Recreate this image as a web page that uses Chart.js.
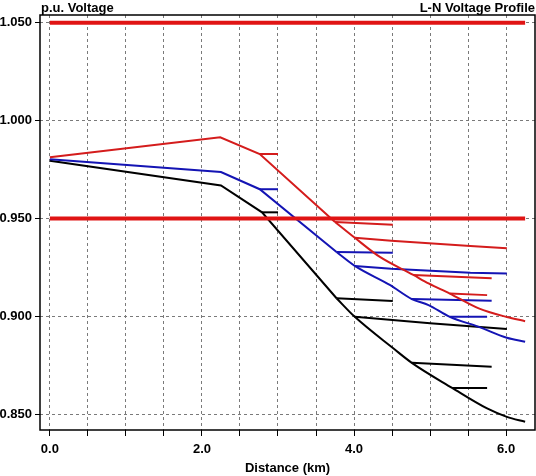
<!DOCTYPE html>
<html><head><meta charset="utf-8">
<script src="https://cdn.jsdelivr.net/npm/chart.js@4.4.1/dist/chart.umd.min.js"></script>
<style>html,body{margin:0;padding:0;background:#fff}canvas{display:block}</style>
</head><body>
<canvas id="c" width="536" height="476"></canvas>
<script>
// ---- axis ticks ----
const xTickValues = [0, 0.5, 1, 1.5, 2, 2.5, 3, 3.5, 4, 4.5, 5, 5.5, 6];
const xTickLabels = ['0.0', '', '', '', '2.0', '', '', '', '4.0', '', '', '', '6.0'];
const yTickValues = [0.85, 0.90, 0.95, 1.00, 1.05];
const yTickLabels = ['0.850', '0.900', '0.950', '1.000', '1.050'];

// ---- voltage limits ----
const limitKm = [0, 6.25];
const upperLimitV = [1.05, 1.05];
const lowerLimitV = [0.95, 0.95];

// ---- phase A (red) ----
const phaseAMainKm = [0, 2.24, 2.76, 3.75, 4.01, 4.34, 4.78, 4.98, 5.26, 5.64, 6.01, 6.25];
const phaseAMainV  = [0.9813, 0.9915, 0.9830, 0.9483, 0.9402, 0.9304, 0.9212, 0.9169, 0.9117, 0.9041, 0.8997, 0.8976];
const phaseABranchKm = [[2.76, 3.00], [3.75, 4.51], [4.01, 4.49, 5.53, 6.01], [4.78, 5.81], [5.26, 5.75]];
const phaseABranchV  = [[0.9830, 0.9830], [0.9483, 0.9469], [0.9402, 0.9387, 0.9360, 0.9348], [0.9212, 0.9195], [0.9117, 0.9109]];

// ---- phase B (blue) ----
const phaseBMainKm = [0, 2.25, 2.76, 3.77, 4.01, 4.47, 4.76, 4.98, 5.26, 5.64, 6.01, 6.25];
const phaseBMainV  = [0.9803, 0.9738, 0.9650, 0.9329, 0.9258, 0.9161, 0.9089, 0.9058, 0.8998, 0.8947, 0.8891, 0.8871];
const phaseBBranchKm = [[2.76, 3.00], [3.77, 4.51], [4.01, 4.49, 5.53, 6.01], [4.76, 5.81], [5.26, 5.75]];
const phaseBBranchV  = [[0.9650, 0.9650], [0.9329, 0.9326], [0.9258, 0.9244, 0.9223, 0.9220], [0.9089, 0.9080], [0.8998, 0.8998]];

// ---- phase C (black) ----
const phaseCMainKm = [0, 2.25, 2.79, 3.77, 4.01, 4.52, 4.76, 5.29, 5.75, 6.01, 6.25];
const phaseCMainV  = [0.9796, 0.9669, 0.9532, 0.9093, 0.8998, 0.8836, 0.8763, 0.8635, 0.8530, 0.8487, 0.8462];
const phaseCBranchKm = [[2.79, 3.00], [3.77, 4.51], [4.01, 5.00, 6.01], [4.76, 5.81], [5.29, 5.75]];
const phaseCBranchV  = [[0.9532, 0.9532], [0.9093, 0.9079], [0.8998, 0.8965, 0.8936], [0.8763, 0.8743], [0.8635, 0.8635]];

const RED = '#d41c1c', BLUE = '#1414b4', BLACK = '#000000', LIMIT = '#e01414';
const FONT = 'Arial, "Liberation Sans", sans-serif';
const CURVE_FROM_KM = 3.7; // main feeder drawn smooth beyond this distance

function pts(xs, ys) { return xs.map((x, i) => ({x: x, y: ys[i]})); }
function ds(data, color, width, order, smooth) {
  return {data: data, borderColor: color, backgroundColor: color, borderWidth: width,
          showLine: true, pointRadius: 0, pointHoverRadius: 0, tension: 0,
          cubicInterpolationMode: smooth ? 'monotone' : 'default', fill: false, order: order};
}

const datasets = [];
datasets.push(ds(pts(limitKm, upperLimitV), LIMIT, 4, 0, false));
datasets.push(ds(pts(limitKm, lowerLimitV), LIMIT, 4, 0, false));
[[phaseAMainKm, phaseAMainV, phaseABranchKm, phaseABranchV, RED, 1],
 [phaseBMainKm, phaseBMainV, phaseBBranchKm, phaseBBranchV, BLUE, 2],
 [phaseCMainKm, phaseCMainV, phaseCBranchKm, phaseCBranchV, BLACK, 3]].forEach(p => {
  const all = pts(p[0], p[1]);
  const k = all.findIndex(q => q.x >= CURVE_FROM_KM);
  datasets.push(ds(all.slice(0, k + 1), p[4], 2, p[5], false));
  datasets.push(ds(all.slice(k), p[4], 2, p[5], true));
  p[2].forEach((bk, i) => datasets.push(ds(pts(bk, p[3][i]), p[4], 2, p[5], false)));
});

const framePlugin = {
  id: 'frame',
  afterDraw(chart) {
    const {ctx, chartArea: a} = chart;
    ctx.save();
    ctx.strokeStyle = '#000';
    ctx.lineWidth = 1.5;
    ctx.strokeRect(a.left, a.top, a.right - a.left, a.bottom - a.top);
    ctx.fillStyle = '#000';
    ctx.font = 'bold 13px ' + FONT;
    ctx.textBaseline = 'alphabetic';
    ctx.textAlign = 'left';
    ctx.fillText('p.u. Voltage', 41, 11.5);
    ctx.textAlign = 'right';
    ctx.fillText('L-N Voltage Profile', 535, 11.5);
    ctx.textAlign = 'center';
    ctx.fillText('Distance (km)', (a.left + a.right) / 2, 472);
    ctx.restore();
  }
};

new Chart(document.getElementById('c'), {
  type: 'scatter',
  data: {datasets: datasets},
  plugins: [framePlugin],
  options: {
    responsive: false,
    animation: false,
    events: [],
    layout: {padding: {top: 15, right: 1, left: 0, bottom: 0}},
    plugins: {legend: {display: false}, tooltip: {enabled: false}, title: {display: false}},
    scales: {
      x: {
        type: 'linear', min: -0.13, max: 6.38,
        afterBuildTicks: s => { s.ticks = xTickValues.map(v => ({value: v})); },
        afterFit: s => { s.height = 46; },
        ticks: {autoSkip: false, maxRotation: 0, padding: 6, color: '#000',
                font: {family: FONT, size: 13, weight: 'bold'},
                callback: (v, i) => xTickLabels[i]},
        grid: {color: '#7a7a7a', lineWidth: 1, tickLength: 6, tickColor: '#000', tickWidth: 1},
        border: {display: false, dash: [3, 3]}
      },
      y: {
        type: 'linear', min: 0.842, max: 1.054,
        afterBuildTicks: s => { s.ticks = yTickValues.map(v => ({value: v})); },
        afterFit: s => { s.width = 40; },
        ticks: {autoSkip: false, padding: 3, color: '#000',
                font: {family: FONT, size: 13, weight: 'bold'},
                callback: (v, i) => yTickLabels[i]},
        grid: {color: '#7a7a7a', lineWidth: 1, tickLength: 5, tickColor: '#000', tickWidth: 1},
        border: {display: false, dash: [3, 3]}
      }
    }
  }
});
</script>
</body></html>
